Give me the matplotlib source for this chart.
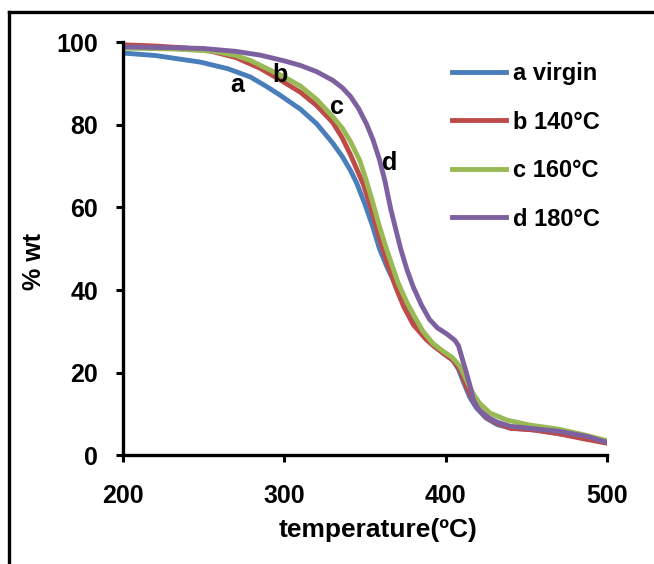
import matplotlib

matplotlib.use("Agg")
from matplotlib import pyplot as plt
from matplotlib.lines import Line2D

# TGA curves (temperature in C, % weight)
temp_a = [200, 220, 248, 265, 279, 289, 297, 310, 320, 330, 336, 341, 345, 350, 355, 359, 364, 368.6, 373, 378, 383, 388.4, 393, 398.5, 404.5, 408, 411, 415, 419, 425, 432, 440, 455, 470, 485, 500]
wt_a = [97.4, 96.8, 95.2, 93.6, 91.6, 89.3, 87.3, 83.8, 80.3, 75.6, 72.3, 69.0, 65.8, 60.8, 55.2, 50.0, 45.3, 41.6, 37.6, 33.6, 30.6, 28.5, 26.6, 24.7, 23.0, 20.8, 17.8, 14.0, 11.5, 9.0, 7.4, 6.6, 6.1, 5.2, 4.3, 3.0]

temp_b = [200, 220, 240, 255, 270, 285, 297, 310, 320, 330, 336, 341, 349, 354, 359, 364, 369, 374, 380, 388, 393, 398.5, 404.5, 409, 413, 417, 421, 426, 432, 440, 455, 470, 485, 500]
wt_b = [99.4, 99.1, 98.6, 97.8, 96.3, 93.7, 91.0, 87.9, 84.7, 80.6, 76.8, 72.8, 65.6, 59.6, 52.6, 46.3, 40.8, 36.0, 31.6, 28.0, 26.3, 24.7, 23.0, 20.6, 16.5, 13.3, 10.9, 9.0, 7.7, 6.5, 6.1, 5.2, 4.0, 2.9]

temp_c = [200, 230, 255, 270, 279, 290, 300, 310, 320, 330, 336, 341, 347, 351, 355, 359, 363.5, 370.5, 376, 381, 386, 392, 398, 404, 409, 412, 415, 418, 421, 427.5, 438, 452, 470, 485, 500]
wt_c = [98.6, 98.4, 97.9, 96.8, 95.6, 93.5, 91.6, 89.4, 86.2, 82.0, 79.2, 76.0, 71.2, 66.3, 61.0, 55.4, 49.8, 41.8, 37.0, 33.4, 30.0, 27.1, 25.3, 23.7, 21.5, 19.0, 16.5, 14.3, 12.6, 10.2, 8.5, 7.3, 6.3, 5.0, 3.5]

temp_d = [200, 230, 250, 270, 285, 300, 310, 320, 330, 336, 341, 346, 351, 355, 359, 362.4, 366, 372, 376, 380, 385, 390, 395, 400.6, 405.8, 408, 410, 412.5, 415, 417, 420, 423, 427, 432, 440, 452, 470, 488, 500]
wt_d = [98.9, 98.7, 98.5, 97.8, 96.9, 95.5, 94.4, 92.9, 90.8, 89.0, 86.9, 84.0, 80.2, 76.4, 71.6, 66.4, 59.6, 50.2, 45.0, 40.7, 36.4, 32.9, 30.8, 29.4, 27.8, 26.5, 23.8, 20.5, 17.0, 13.6, 11.3, 10.2, 9.0, 8.0, 7.0, 6.5, 5.8, 4.5, 3.1]

series_labels = ["a virgin", "b 140°C", "c 160°C", "d 180°C"]
series_colors = ["#4a7ebb", "#be4b48", "#98b954", "#7d60a0"]

# letters written next to each curve
note_text = ["a", "b", "c", "d"]
note_x = [270.7, 297.3, 332.6, 365.5]
note_y = [89.6, 92.0, 84.3, 70.7]

x_ticks = [200, 300, 400, 500]
y_ticks = [0, 20, 40, 60, 80, 100]

plt.rcParams["font.family"] = ["Liberation Sans", "DejaVu Sans"]
plt.rcParams["font.weight"] = "bold"

fig = plt.figure(figsize=(6.54, 5.64), dpi=100)
ax = fig.add_axes([0.188, 0.193, 0.740, 0.732])

curves = [(temp_a, wt_a), (temp_b, wt_b), (temp_c, wt_c), (temp_d, wt_d)]
for (xs, ys), label, color in zip(curves, series_labels, series_colors):
    ax.plot(xs, ys, color=color, linewidth=3.5, label=label, solid_joinstyle="round")

for text, x, y in zip(note_text, note_x, note_y):
    ax.text(x, y, text, fontsize=18, fontweight="bold", ha="center", va="center")

ax.set_xlim(200, 500)
ax.set_ylim(0, 100)
ax.set_xticks(x_ticks)
ax.set_yticks(y_ticks)
ax.tick_params(direction="out", length=5, width=2.2, labelsize=18, pad=13)
ax.tick_params(axis="x", pad=16)
for label in ax.get_xticklabels() + ax.get_yticklabels():
    label.set_fontweight("bold")

for side in ("top", "right"):
    ax.spines[side].set_visible(False)
for side in ("left", "bottom"):
    ax.spines[side].set_linewidth(2.4)

ax.set_xlabel("temperature(ºC)", fontsize=19, fontweight="bold")
ax.xaxis.set_label_coords(0.527, -0.153)
ax.set_ylabel("% wt", fontsize=18, fontweight="bold")
ax.yaxis.set_label_coords(-0.158, 0.47)

legend = ax.legend(
    loc="upper left",
    bbox_to_anchor=(0.68, 0.952),
    frameon=False,
    fontsize=17,
    handlelength=2.3,
    handletextpad=0.3,
    labelspacing=1.08,
    borderpad=0,
    borderaxespad=0,
)
for handle in legend.get_lines():
    handle.set_linewidth(3.5)
for text in legend.get_texts():
    text.set_fontweight("bold")

# outer frame: only top and left edges fall inside the picture
fig.add_artist(Line2D([9 / 654, 1.0], [1 - 12 / 564, 1 - 12 / 564], color="black", linewidth=2.4, transform=fig.transFigure))
fig.add_artist(Line2D([9 / 654, 9 / 654], [0.0, 1 - 12 / 564], color="black", linewidth=2.4, transform=fig.transFigure))

fig.savefig("out.png", dpi=100)
plt.close(fig)
